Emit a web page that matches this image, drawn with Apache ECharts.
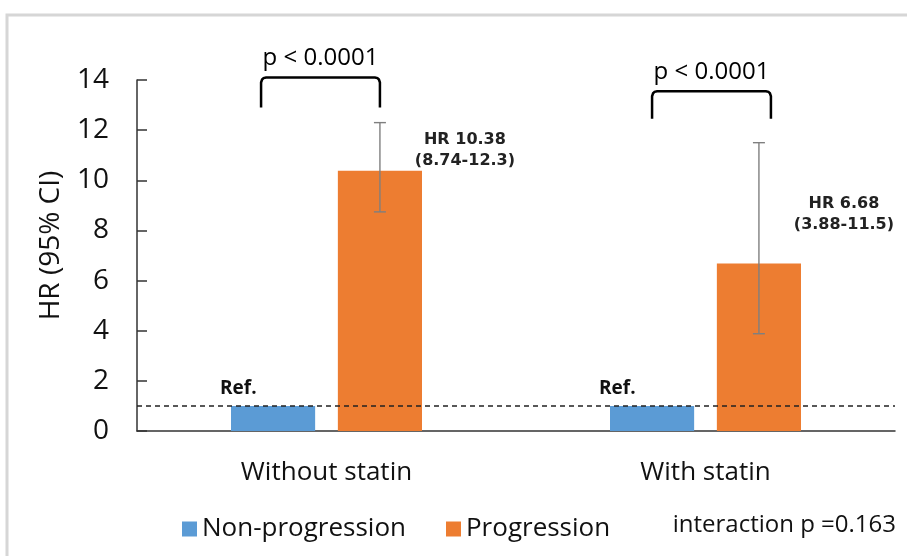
<!DOCTYPE html>
<html>
<head>
<meta charset="utf-8">
<script src="https://cdn.jsdelivr.net/npm/echarts@6/dist/echarts.min.js"></script>
<style>
  html, body { margin: 0; padding: 0; background: #fff; }
  #main { width: 907px; height: 556px; }
</style>
</head>
<body>
<div id="main"></div>
<script>
// values
var groups = ['Without statin', 'With statin'];
var nonProgression = [1, 1];
var progression = [10.38, 6.68];
var ciLow = [8.74, 3.88];
var ciHigh = [12.3, 11.5];
var hrText = ['HR 10.38\n(8.74-12.3)', 'HR 6.68\n(3.88-11.5)'];
var hrTextAt = [11.2, 8.65];
var pText = ['p < 0.0001', 'p < 0.0001'];
var bracketTop = [14.1, 13.55];
var bracketFoot = [12.9, 12.45];
var refLevel = 1;
var yMin = 0, yMax = 14, yStep = 2;
var noteText = 'interaction p =0.163';

var BAR_W = 0.222, BAR_GAP = 0.27;
var FONT = '"Open Sans", Lato, sans-serif';
var bracketShift = [-6, 6];

var myChart = echarts.init(document.getElementById('main'));

// centre of the n-th bar (0 blue, 1 orange) inside a category
function barOffset(api, n) {
    var cw = api.size([1, 0])[0];
    var bw = cw * BAR_W;
    var off = (bw + bw * BAR_GAP) / 2;
    return n === 0 ? -off : off;
}

function renderBracket(params, api) {
    var i = params.dataIndex;
    var top = api.coord([api.value(0), api.value(1)]);
    var foot = api.coord([api.value(0), api.value(2)]);
    var cw = api.size([1, 0])[0];
    var half = cw * BAR_W * (1 + BAR_GAP) / 2 + 6;
    var cx = top[0] + bracketShift[i];
    var x1 = cx - half, x2 = cx + half, yt = top[1], yb = foot[1], r = 5;
    return {
        type: 'group',
        children: [{
            type: 'polyline',
            shape: { points: [
                [x1, yb], [x1, yt + r], [x1 + 1, yt + 2], [x1 + 2.5, yt + 0.6], [x1 + r, yt],
                [x2 - r, yt], [x2 - 2.5, yt + 0.6], [x2 - 1, yt + 2], [x2, yt + r], [x2, yb]
            ] },
            style: { stroke: '#000', lineWidth: 2.5, fill: null }
        }, {
            type: 'text',
            style: {
                x: cx, y: yt - 19, text: pText[i],
                font: '24px ' + FONT, fill: '#000',
                align: 'center', verticalAlign: 'middle'
            }
        }]
    };
}

function renderError(params, api) {
    var i = params.dataIndex;
    var lo = api.coord([api.value(0), api.value(1)]);
    var hi = api.coord([api.value(0), api.value(2)]);
    var at = api.coord([api.value(0), api.value(3)]);
    var x = lo[0] + barOffset(api, 1);
    var c = 6;
    var st = { stroke: '#7f7f7f', lineWidth: 1.4 };
    return {
        type: 'group',
        children: [
            { type: 'line', shape: { x1: x, y1: lo[1], x2: x, y2: hi[1] }, style: st },
            { type: 'line', shape: { x1: x - c, y1: lo[1], x2: x + c, y2: lo[1] }, style: st },
            { type: 'line', shape: { x1: x - c, y1: hi[1], x2: x + c, y2: hi[1] }, style: st },
            {
                type: 'text',
                style: {
                    x: x + 85, y: at[1], text: hrText[i],
                    font: 'bold 16px "DejaVu Sans", Verdana, sans-serif',
                    fill: '#222', align: 'center', verticalAlign: 'middle',
                    lineHeight: 21
                }
            }
        ]
    };
}

var axisCol = '#333';

myChart.setOption({
    animation: false,
    backgroundColor: '#fff',
    grid: { left: 137, right: 12, top: 80, bottom: 125 },
    legend: {
        data: ['Non-progression', 'Progression'],
        left: 177, top: 511,
        icon: 'rect', itemWidth: 15, itemHeight: 15, itemGap: 40,
        textStyle: { fontFamily: FONT, fontSize: 26, color: '#111' }
    },
    graphic: [
        { type: 'rect', shape: { x: 7, y: 15, width: 930, height: 580 },
          style: { fill: null, stroke: '#d6d6d6', lineWidth: 3 }, silent: true },
        { type: 'text', right: 11, top: 513,
          style: { text: noteText, font: '24px ' + FONT, fill: '#111' } }
    ],
    xAxis: {
        type: 'category',
        data: groups,
        axisLine: { lineStyle: { color: axisCol, width: 1.5 } },
        axisTick: { inside: true, length: 9, lineStyle: { color: axisCol, width: 1.5 } },
        axisLabel: { fontFamily: FONT, fontSize: 26, color: '#111', margin: 29 }
    },
    yAxis: {
        type: 'value',
        min: yMin, max: yMax, interval: yStep,
        name: 'HR (95% CI)',
        nameLocation: 'middle', nameGap: 72, nameRotate: 90,
        nameTextStyle: { fontFamily: FONT, fontSize: 28, color: '#111', padding: [0, 0, 0, 20] },
        splitLine: { show: false },
        axisLine: { show: true, lineStyle: { color: axisCol, width: 1.5 } },
        axisTick: { show: true, inside: true, length: 10, lineStyle: { color: axisCol, width: 1.5 } },
        axisLabel: { fontFamily: FONT, fontSize: 28, color: '#111', margin: 28 }
    },
    series: [
        {
            name: 'Non-progression',
            type: 'bar',
            data: nonProgression,
            barWidth: (BAR_W * 100) + '%',
            barGap: (BAR_GAP * 100) + '%',
            itemStyle: { color: '#5b9bd5' },
            label: {
                show: true, formatter: 'Ref.', position: [-11, -27],
                fontFamily: FONT, fontWeight: 'bold', fontSize: 19, color: '#111'
            },
            markLine: {
                silent: true, symbol: 'none',
                data: [{ yAxis: refLevel }],
                label: { show: false },
                lineStyle: { type: [5, 4], color: '#222', width: 1.5 }
            },
            z: 2
        },
        {
            name: 'Progression',
            type: 'bar',
            data: progression,
            barWidth: (BAR_W * 100) + '%',
            itemStyle: { color: '#ed7d31' },
            z: 1
        },
        {
            type: 'custom',
            renderItem: renderError,
            data: groups.map(function (g, i) { return [i, ciLow[i], ciHigh[i], hrTextAt[i]]; }),
            z: 5
        },
        {
            type: 'custom',
            renderItem: renderBracket,
            data: groups.map(function (g, i) { return [i, bracketTop[i], bracketFoot[i]]; }),
            z: 5
        }
    ]
});
</script>
</body>
</html>
